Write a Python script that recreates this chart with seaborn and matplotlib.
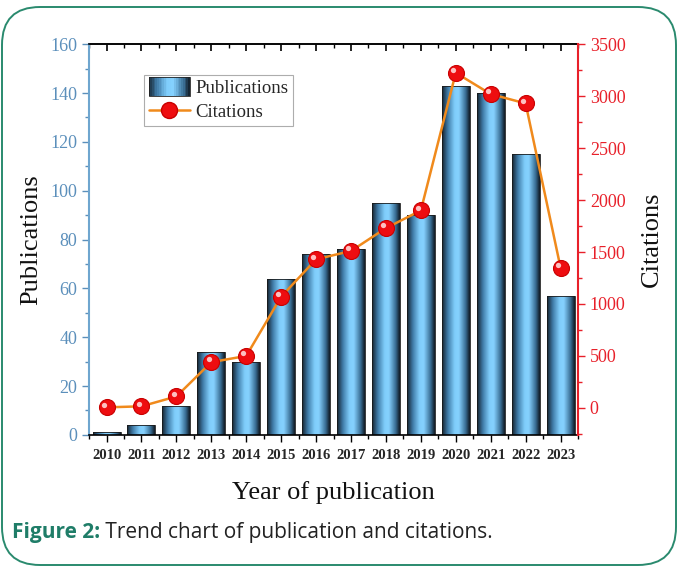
import numpy as np
import matplotlib
matplotlib.use('Agg')
import matplotlib.pyplot as plt
import seaborn as sns
from matplotlib.colors import LinearSegmentedColormap
from matplotlib.patches import Rectangle, FancyBboxPatch
from matplotlib.lines import Line2D
from matplotlib.legend_handler import HandlerBase
from matplotlib.ticker import MultipleLocator, AutoMinorLocator
import matplotlib.transforms as mtransforms

# data
years = ['2010', '2011', '2012', '2013', '2014', '2015', '2016',
         '2017', '2018', '2019', '2020', '2021', '2022', '2023']
publications = [1, 4, 12, 34, 30, 64, 74, 76, 95, 90, 143, 140, 115, 57]
citations = [5, 15, 110, 440, 500, 1070, 1430, 1510, 1730, 1900, 3225, 3020, 2930, 1350]

sns.set_theme(style='white')
plt.rcParams['font.family'] = ['Liberation Serif', 'DejaVu Serif']

# cylinder-like shading for the bars
bar_cmap = LinearSegmentedColormap.from_list(
    'cyl', [(0.0, '#15222e'), (0.2, '#3f7aa6'), (0.45, '#7fcdfb'),
            (0.6, '#86d2ff'), (0.85, '#3a6f96'), (1.0, '#101a24')])

fig = plt.figure(figsize=(6.8, 5.67), dpi=100)
ax = fig.add_axes([0.131, 0.233, 0.719, 0.689])

sns.barplot(x=years, y=publications, ax=ax, color='#5aa8d8', width=0.8,
            edgecolor='#1a1a1a', linewidth=0.6, zorder=2)

grad = np.linspace(0, 1, 64).reshape(1, -1)
for p in list(ax.patches):
    x0, y0 = p.get_x(), p.get_y()
    w, h = p.get_width(), p.get_height()
    p.set_facecolor('none')
    im = ax.imshow(grad, extent=[x0, x0 + w, y0, y0 + h], aspect='auto',
                   cmap=bar_cmap, zorder=1.9, interpolation='bicubic')
    im.set_clip_path(p)

ax.set_xlim(-0.5, len(years) - 0.5)
ax.set_ylim(0, 160)
ax.set_aspect('auto')

left_col = '#5b8fbb'
right_col = '#e8202a'

ax.yaxis.set_major_locator(MultipleLocator(20))
ax.yaxis.set_minor_locator(MultipleLocator(10))
ax.xaxis.set_minor_locator(AutoMinorLocator(2))
ax.tick_params(axis='y', which='both', direction='out', left=True, colors=left_col,
               labelsize=13)
ax.tick_params(axis='y', which='major', length=5, width=1)
ax.tick_params(axis='y', which='minor', length=3, width=1)
ax.tick_params(axis='x', which='both', direction='out', bottom=True, top=False,
               color='black', labelsize=10.5)
ax.tick_params(axis='x', which='major', length=5, width=1, pad=5)
ax.tick_params(axis='x', which='minor', length=3, width=1)
for lab in ax.get_xticklabels():
    lab.set_fontweight('bold')
ax.spines['left'].set_color('#6fa6cf')
ax.spines['left'].set_linewidth(1.5)
for s in ['top', 'bottom']:
    ax.spines[s].set_color('black')
    ax.spines[s].set_linewidth(1.2)

# top ticks pointing in
axt = ax.secondary_xaxis('top')
axt.set_xticks(range(len(years)))
axt.xaxis.set_minor_locator(AutoMinorLocator(2))
axt.tick_params(axis='x', which='both', direction='in', labeltop=False, color='black')
axt.tick_params(axis='x', which='major', length=5, width=1.2)
axt.tick_params(axis='x', which='minor', length=3, width=1)
axt.spines['top'].set_linewidth(1.2)

ax.set_xlabel('Year of publication', fontsize=19, color='#111111', labelpad=14)
ax.set_ylabel('Publications', fontsize=19, color='#111111', labelpad=6)

# citations on the right axis (drawn above the bars)
ax2 = ax.twinx()
x_pos = np.arange(len(years))
sns.lineplot(x=x_pos, y=citations, ax=ax2, color='#f08a1c', linewidth=1.8,
             marker='o', markersize=11.5, markerfacecolor='#ee0d10',
             markeredgecolor='#c80000', markeredgewidth=0.8, zorder=5)
shift = mtransforms.ScaledTranslation(-2 / 72, 2 / 72, fig.dpi_scale_trans)
ax2.plot(x_pos, citations, linestyle='none', marker='o', markersize=3.8,
         markerfacecolor='#ffd6d6', markeredgecolor='none', alpha=0.9,
         transform=ax2.transData + shift, zorder=6)
ax2.set_ylim(-260, 3500)
ax2.yaxis.set_major_locator(MultipleLocator(500))
ax2.yaxis.set_minor_locator(MultipleLocator(250))
ax2.tick_params(axis='y', which='both', direction='out', right=True, colors=right_col,
                labelsize=13)
ax2.tick_params(axis='y', which='major', length=5, width=1)
ax2.tick_params(axis='y', which='minor', length=3, width=1)
ax2.spines['right'].set_color(right_col)
ax2.spines['right'].set_linewidth(1.5)
ax2.spines['left'].set_visible(False)
ax2.spines['top'].set_visible(False)
ax2.spines['bottom'].set_visible(False)
ax2.set_ylabel('Citations', fontsize=19, color='#111111', labelpad=11)


class GradientHandler(HandlerBase):
    def create_artists(self, legend, orig, xdescent, ydescent, width, height,
                       fontsize, trans):
        n = 24
        arts = []
        for i in range(n):
            r = Rectangle((-xdescent + width * i / n, -ydescent - 2), width / n + 0.2,
                          height + 4, facecolor=bar_cmap((i + 0.5) / n),
                          edgecolor='none', transform=trans)
            arts.append(r)
        arts.append(Rectangle((-xdescent, -ydescent - 2), width, height + 4,
                              facecolor='none', edgecolor='#222222', lw=0.6,
                              transform=trans))
        return arts


bar_handle = Rectangle((0, 0), 1, 1)
line_handle = Line2D([], [], color='#f08a1c', linewidth=1.8, marker='o',
                     markersize=11.5, markerfacecolor='#ee0d10',
                     markeredgecolor='#c80000')
leg = ax2.legend([bar_handle, line_handle], ['Publications', 'Citations'],
                 handler_map={bar_handle: GradientHandler()},
                 loc='upper left', bbox_to_anchor=(0.112, 0.92), fontsize=13.5,
                 frameon=True, fancybox=False, edgecolor='#999999',
                 handlelength=2.2, handletextpad=0.3, borderpad=0.25,
                 labelspacing=0.35, borderaxespad=0)
leg.get_frame().set_linewidth(0.8)

# figure frame and caption
frame = FancyBboxPatch((0.02, 0.02), 6.74, 5.58,
                       boxstyle='round,pad=0,rounding_size=0.38',
                       transform=fig.dpi_scale_trans, facecolor='none',
                       edgecolor='#2a8a6e', linewidth=1.4)
fig.patches.append(frame)

t1 = fig.text(0.018, 0.052, 'Figure 2:', fontsize=15, fontweight='bold',
              color='#1f7d68', family=['Open Sans', 'DejaVu Sans'])
ax.annotate(' Trend chart of publication and citations.', xy=(1, 0), xycoords=t1,
            va='bottom', ha='left', fontsize=15, color='#222222',
            family=['Open Sans', 'DejaVu Sans'], annotation_clip=False)

fig.savefig('out.png', dpi=100)
